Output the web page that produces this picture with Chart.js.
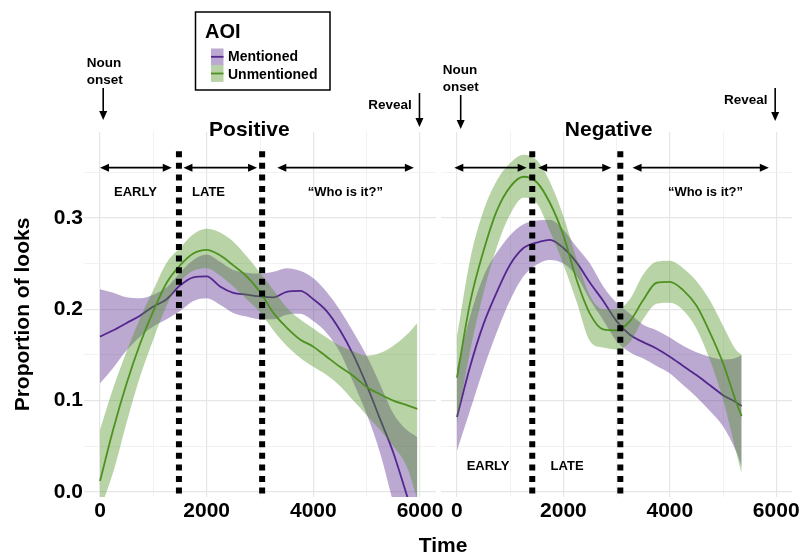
<!DOCTYPE html>
<html>
<head>
<meta charset="utf-8">
<script src="https://cdn.jsdelivr.net/npm/chart.js@4.4.1/dist/chart.umd.min.js"></script>
<style>
html,body{margin:0;padding:0;background:#fff;}
#wrap{position:relative;width:802px;height:559px;overflow:hidden;background:#fff;}
canvas{position:absolute;left:0;top:0;}
</style>
</head>
<body>
<div id="wrap">
<canvas id="cPos" width="802" height="559"></canvas>
<canvas id="cNeg" width="802" height="559"></canvas>
</div>
<script>
// ---------------- DATA ----------------
const seriesNames = ['Mentioned', 'Unmentioned'];
const panelNames = ['Positive', 'Negative'];

// Positive panel (time in ms)
const posTime    = [0,250,500,750,1000,1250,1500,1750,2000,2250,2500,2750,3000,3250,3500,3750,4000,4250,4500,4750,5000,5250,5500,5750,5950];
const posMentFit = [0.170,0.177,0.185,0.193,0.203,0.211,0.226,0.235,0.236,0.225,0.218,0.216,0.214,0.213,0.219,0.220,0.211,0.198,0.177,0.150,0.117,0.080,0.043,-0.003,-0.040];
const posMentHi  = [0.222,0.218,0.213,0.212,0.216,0.224,0.240,0.254,0.260,0.252,0.243,0.240,0.239,0.241,0.245,0.242,0.234,0.219,0.199,0.175,0.149,0.118,0.086,0.068,0.060];
const posMentLo  = [0.119,0.136,0.155,0.170,0.181,0.189,0.198,0.209,0.212,0.205,0.196,0.192,0.189,0.189,0.194,0.195,0.187,0.174,0.153,0.120,0.085,0.043,-0.012,-0.065,-0.100];
const posUnmFit  = [0.012,0.069,0.119,0.162,0.198,0.229,0.248,0.261,0.265,0.259,0.248,0.236,0.219,0.196,0.180,0.167,0.159,0.148,0.137,0.127,0.115,0.107,0.100,0.095,0.091];
const posUnmHi   = [0.068,0.114,0.154,0.190,0.221,0.251,0.267,0.282,0.288,0.284,0.274,0.258,0.240,0.221,0.202,0.189,0.179,0.169,0.160,0.154,0.149,0.152,0.160,0.172,0.185];
const posUnmLo   = [-0.020,0.022,0.076,0.126,0.167,0.204,0.230,0.242,0.245,0.237,0.225,0.211,0.197,0.177,0.160,0.147,0.137,0.128,0.116,0.100,0.084,0.068,0.050,0.028,-0.008];

// Negative panel
const negTime    = [0,250,500,750,1000,1250,1500,1750,2000,2250,2500,2750,3000,3250,3500,3750,4000,4250,4500,4750,5000,5250,5350];
const negMentFit = [0.082,0.138,0.184,0.219,0.249,0.267,0.273,0.276,0.267,0.251,0.229,0.209,0.187,0.172,0.164,0.157,0.148,0.138,0.128,0.117,0.106,0.098,0.094];
const negMentHi  = [0.135,0.193,0.236,0.262,0.281,0.293,0.297,0.298,0.287,0.268,0.250,0.225,0.207,0.195,0.183,0.177,0.169,0.160,0.153,0.148,0.145,0.147,0.150];
const negMentLo  = [0.045,0.090,0.135,0.175,0.210,0.236,0.249,0.254,0.250,0.236,0.210,0.188,0.165,0.153,0.146,0.138,0.130,0.117,0.104,0.089,0.072,0.044,0.028];
const negUnmFit  = [0.125,0.208,0.264,0.308,0.334,0.345,0.339,0.316,0.281,0.232,0.195,0.178,0.177,0.187,0.210,0.229,0.230,0.221,0.204,0.175,0.141,0.098,0.083];
const negUnmHi   = [0.170,0.255,0.308,0.341,0.360,0.369,0.363,0.339,0.302,0.255,0.215,0.200,0.200,0.211,0.238,0.252,0.253,0.245,0.231,0.210,0.182,0.155,0.150];
const negUnmLo   = [0.075,0.155,0.218,0.268,0.304,0.322,0.316,0.285,0.249,0.208,0.165,0.158,0.156,0.164,0.189,0.206,0.207,0.199,0.179,0.145,0.101,0.043,0.020];

// Phase boundaries (dotted lines), ms
const posBounds = [1480, 3040];
const negBounds = [1415, 3070];

// Axis ticks
const xGrid = [0,1000,2000,3000,4000,5000,6000];
const xTickLabels = [0,2000,4000,6000];
const yGrid = [0,0.05,0.10,0.15,0.20,0.25,0.30,0.35];
const yTickLabels = [0.0,0.1,0.2,0.3];

// ---------------- STYLE ----------------
const FAMILY = '"Liberation Sans", Arial, Helvetica, sans-serif';
const PURPLE = '#54278f', PURPLE_FILL = 'rgba(84,39,143,0.4)';
const GREEN = '#4d9221', GREEN_FILL = 'rgba(77,146,33,0.4)';
const NONE = 'rgba(0,0,0,0)';

function xy(ts, vs){ return ts.map((t,i)=>({x:t, y:vs[i]})); }

function bandSets(ts, fit, lo, hi, line, fill){
  return [
    {data: xy(ts,fit), borderColor: line, borderWidth: 1.8, pointRadius: 0, fill: false, cubicInterpolationMode: 'monotone'},
    {data: xy(ts,hi), borderColor: NONE, borderWidth: 0, pointRadius: 0, backgroundColor: fill, fill: '+1', cubicInterpolationMode: 'monotone'},
    {data: xy(ts,lo), borderColor: NONE, borderWidth: 0, pointRadius: 0, fill: false, cubicInterpolationMode: 'monotone'}
  ];
}
function dotted(b){
  return {data: [{x:b, y:0.373},{x:b, y:-0.02}], borderColor:'#000', borderWidth:6, borderDash:[6,5.6], pointRadius:0, fill:false, tension:0};
}

function text(ctx, s, x, y, size, align){
  ctx.font = 'bold ' + size + 'px ' + FAMILY;
  ctx.textAlign = align || 'center';
  ctx.textBaseline = 'middle';
  ctx.fillStyle = '#000';
  ctx.fillText(s, x, y);
}
function head(ctx, x, y, ux, uy, len, half){
  ctx.beginPath();
  ctx.moveTo(x, y);
  ctx.lineTo(x - ux*len - uy*half, y - uy*len + ux*half);
  ctx.lineTo(x - ux*len + uy*half, y - uy*len - ux*half);
  ctx.closePath();
  ctx.fill();
}
function hArrow(ctx, x1, x2, y){
  ctx.beginPath(); ctx.moveTo(x1+5, y); ctx.lineTo(x2-5, y); ctx.stroke();
  head(ctx, x1, y, -1, 0, 9, 4);
  head(ctx, x2, y, 1, 0, 9, 4);
}
function vArrow(ctx, x, y1, y2){
  ctx.beginPath(); ctx.moveTo(x, y1); ctx.lineTo(x, y2-5); ctx.stroke();
  head(ctx, x, y2, 0, 1, 9, 4);
}

function annotPlugin(cfg){
  return {
    id: 'annot',
    afterDatasetsDraw(chart){
      const ctx = chart.ctx, xs = chart.scales.x, ys = chart.scales.y;
      const X = t => xs.getPixelForValue(t), Y = v => ys.getPixelForValue(v);
      ctx.save();
      ctx.fillStyle = '#000'; ctx.strokeStyle = '#000'; ctx.lineWidth = 1.6;
      cfg.arrows.forEach(a => hArrow(ctx, X(a[0]), X(a[1]), Y(cfg.arrowV)));
      cfg.labels.forEach(l => text(ctx, l.text, X(l.t), Y(l.v), 13, 'center'));
      text(ctx, cfg.title, X(cfg.titleT), 130, 21, 'center');
      text(ctx, 'Noun', X(cfg.nounTextT), cfg.nounY[0], 13.5, 'left');
      text(ctx, 'onset', X(cfg.nounTextT), cfg.nounY[1], 13.5, 'left');
      ctx.lineWidth = 1.6;
      vArrow(ctx, X(cfg.nounT), cfg.nounArrow[0], cfg.nounArrow[1]);
      text(ctx, 'Reveal', X(cfg.revealTextT), cfg.revealY, 13.5, 'right');
      vArrow(ctx, X(cfg.revealT), cfg.revealArrow[0], cfg.revealArrow[1]);
      ctx.restore();
    }
  };
}

const legendPlugin = {
  id: 'legendBox',
  afterDraw(chart){
    const ctx = chart.ctx;
    ctx.save();
    ctx.strokeStyle = '#000'; ctx.lineWidth = 1.5;
    ctx.fillStyle = '#fff';
    ctx.fillRect(195.5, 12, 134.5, 78);
    ctx.strokeRect(195.5, 12, 134.5, 78);
    text(ctx, 'AOI', 205, 32, 20, 'left');
    const keys = [[PURPLE_FILL, PURPLE, 48.5], [GREEN_FILL, GREEN, 65.2]];
    keys.forEach((k, i) => {
      ctx.fillStyle = k[0];
      ctx.fillRect(211, k[2], 12.5, 16.7);
      ctx.strokeStyle = k[1]; ctx.lineWidth = 1.8;
      ctx.beginPath(); ctx.moveTo(211, k[2]+8.3); ctx.lineTo(223.5, k[2]+8.3); ctx.stroke();
      text(ctx, seriesNames[i], 228, i === 0 ? 57 : 75.5, 14, 'left');
    });
    text(ctx, 'Time', 443, 546, 21, 'center');
    ctx.restore();
  }
};

function gridColor(ctx, majorTest){
  return majorTest(ctx.tick && ctx.tick.value) ? '#e6e6e6' : '#efefef';
}
const isMajorX = v => xTickLabels.includes(v);
const isMajorY = v => yTickLabels.some(t => Math.abs(t - v) < 1e-9);

function makeChart(id, datasets, pad, showY, plugins){
  const tickFont = {family: FAMILY, size: 21, weight: 'bold'};
  return new Chart(document.getElementById(id), {
    type: 'line',
    data: {datasets},
    options: {
      responsive: false, animation: false, devicePixelRatio: 1,
      layout: {padding: pad},
      plugins: {legend: {display: false}, tooltip: {enabled: false}},
      events: [],
      scales: {
        x: {
          type: 'linear', min: -300, max: 6300,
          afterBuildTicks: s => { s.ticks = xGrid.map(v => ({value: v})); },
          afterFit: s => { s.height = 30; },
          ticks: {autoSkip: false, maxRotation: 0, padding: 2, color: '#000', font: tickFont,
                  callback: v => isMajorX(v) ? String(v) : ''},
          grid: {drawTicks: false, color: c => gridColor(c, isMajorX), lineWidth: c => isMajorX(c.tick && c.tick.value) ? 1.2 : 0.8},
          border: {display: false}
        },
        y: {
          type: 'linear', min: -0.0055, max: 0.394,
          afterBuildTicks: s => { s.ticks = yGrid.map(v => ({value: v})); },
          afterFit: s => { s.width = showY ? 84 : 0; },
          ticks: {display: showY, autoSkip: false, padding: 1, color: '#000', font: tickFont,
                  callback: v => isMajorY(v) ? v.toFixed(1) : ''},
          grid: {drawTicks: false, color: c => gridColor(c, isMajorY), lineWidth: c => isMajorY(c.tick && c.tick.value) ? 1.2 : 0.8},
          border: {display: false},
          title: {display: showY, text: 'Proportion of looks', color: '#000',
                  font: {family: FAMILY, size: 21, weight: 'bold'}, padding: {top: 11, bottom: 0}}
        }
      }
    },
    plugins
  });
}

// ---------------- CHARTS ----------------
const posSets = [dotted(posBounds[0]), dotted(posBounds[1])]
  .concat(bandSets(posTime, posUnmFit, posUnmLo, posUnmHi, GREEN, GREEN_FILL))
  .concat(bandSets(posTime, posMentFit, posMentLo, posMentHi, PURPLE, PURPLE_FILL));
const negSets = [dotted(negBounds[0]), dotted(negBounds[1])]
  .concat(bandSets(negTime, negUnmFit, negUnmLo, negUnmHi, GREEN, GREEN_FILL))
  .concat(bandSets(negTime, negMentFit, negMentLo, negMentHi, PURPLE, PURPLE_FILL));

makeChart('cPos', posSets, {left: 0, right: 366, top: 132, bottom: 32}, true, [
  annotPlugin({
    title: panelNames[0], titleT: 2800, arrowV: 0.355,
    arrows: [[0,1345],[1565,2945],[3325,5885]],
    labels: [{text:'EARLY', t:665, v:0.328}, {text:'LATE', t:2035, v:0.328}, {text:'\u201cWho is it?\u201d', t:4600, v:0.328}],
    nounTextT: -250, nounY: [63, 80], nounT: 60, nounArrow: [88, 120],
    revealTextT: 5845, revealY: 105, revealT: 5990, revealArrow: [93, 127]
  }),
  legendPlugin
]);

makeChart('cNeg', negSets, {left: 441, right: 9, top: 132, bottom: 32}, false, [
  annotPlugin({
    title: panelNames[1], titleT: 2850, arrowV: 0.355,
    arrows: [[-50,1310],[1525,2900],[3300,5860]],
    labels: [{text:'\u201cWho is it?\u201d', t:4670, v:0.328}, {text:'EARLY', t:585, v:0.028}, {text:'LATE', t:2070, v:0.028}],
    nounTextT: -268, nounY: [70, 87], nounT: 70, nounArrow: [95, 129],
    revealTextT: 5837, revealY: 100, revealT: 5980, revealArrow: [88, 121]
  })
]);
</script>
</body>
</html>
